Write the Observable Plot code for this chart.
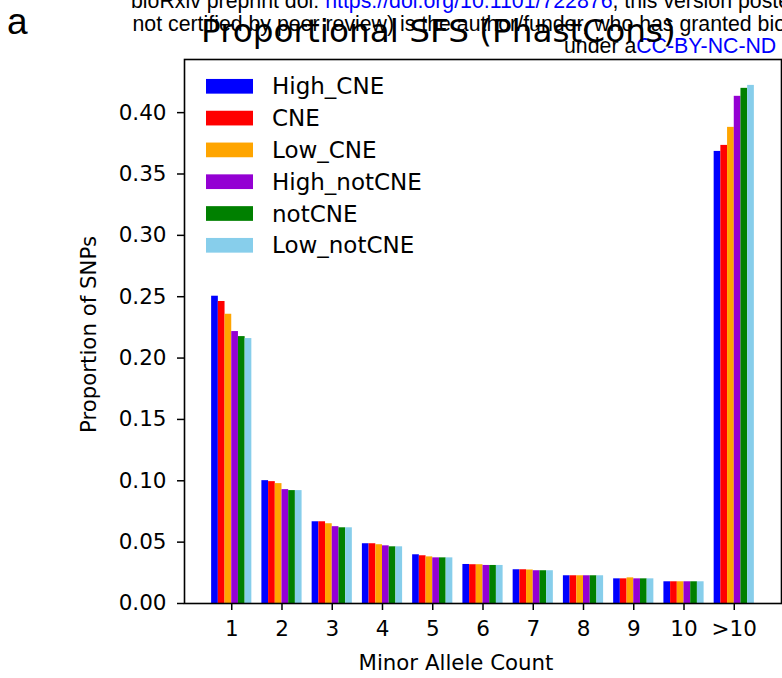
<!DOCTYPE html>
<html><head><meta charset="utf-8">
<script src="https://cdn.jsdelivr.net/npm/d3@7"></script>
<script src="https://cdn.jsdelivr.net/npm/@observablehq/plot@0.6"></script>
<style>
body{margin:0;background:#fff;}
#chart{position:relative;width:782px;height:678px;overflow:hidden;}
#chart svg [aria-label$="tick"] path, #chart svg g.tick line{stroke-width:1.5px;}
</style></head><body><div id="chart"></div>
<script>
const categories = ["1","2","3","4","5","6","7","8","9","10",">10"];
const seriesNames = ["High_CNE","CNE","Low_CNE","High_notCNE","notCNE","Low_notCNE"];
const seriesColors = ["#0000ff","#ff0000","#ffa500","#9400d3","#008000","#87ceeb"];
const highCNE    = [0.2504,0.1001,0.0666,0.0487,0.0397,0.0318,0.0275,0.0226,0.0201,0.0177,0.3684];
const cne        = [0.2461,0.0993,0.0666,0.0487,0.0389,0.0316,0.0275,0.0226,0.0201,0.0177,0.3733];
const lowCNE     = [0.2357,0.0977,0.0650,0.0479,0.0380,0.0316,0.0273,0.0226,0.0209,0.0177,0.3880];
const highNotCNE = [0.2216,0.0928,0.0626,0.0470,0.0372,0.0310,0.0267,0.0226,0.0201,0.0177,0.4133];
const notCNE     = [0.2175,0.0920,0.0617,0.0462,0.0372,0.0310,0.0267,0.0226,0.0201,0.0177,0.4198];
const lowNotCNE  = [0.2159,0.0920,0.0617,0.0462,0.0372,0.0310,0.0267,0.0226,0.0201,0.0177,0.4222];
const yTicks = [0,0.05,0.10,0.15,0.20,0.25,0.30,0.35,0.40];
const titleText = "Proportional SFS (PhastCons)";
const xLabel = "Minor Allele Count";
const yLabel = "Proportion of SNPs";
const panelLetter = "a";

const seriesValues = [highCNE, cne, lowCNE, highNotCNE, notCNE, lowNotCNE];
const groupWidth = 0.8, bw = groupWidth / seriesNames.length;
const rows = seriesNames.flatMap((s, j) => seriesValues[j].map((v, i) => ({
  cat: categories[i], pos: i + 1, series: s, j, value: v
})));

const chart = Plot.plot({
  width: 782, height: 678,
  marginLeft: 184, marginRight: 1, marginTop: 59, marginBottom: 75,
  style: {fontFamily: "DejaVu Sans", fontSize: "21.5px", color: "black", background: "white", overflow: "visible"},
  x: {domain: [0.06, 11.94], ticks: d3.range(1, 12), tickFormat: d => categories[d - 1], tickSize: 7, tickPadding: 10, label: null},
  y: {domain: [0, 0.4433], ticks: yTicks, tickFormat: d3.format(".2f"), tickSize: 7, tickPadding: 11, label: null},
  color: {domain: seriesNames, range: seriesColors},
  marks: [
    Plot.rect(rows, {x1: d => d.pos - groupWidth / 2 + d.j * bw, x2: d => d.pos - groupWidth / 2 + (d.j + 1) * bw, y1: 0, y2: "value", fill: "series"}),
    Plot.frame({stroke: "black", strokeWidth: 1.6})
  ]
});
document.getElementById("chart").appendChild(chart);

const svg = d3.select(chart);
const sans = "Liberation Sans, Arial, sans-serif";
const txt = (x, y, family, size) => svg.append("text").attr("x", x).attr("y", y)
  .attr("font-family", family).attr("font-size", size).attr("fill", "black").attr("text-anchor", "start");
// panel letter
txt(7, 33.5, sans, 37).text(panelLetter);
// bioRxiv stamp
const l1 = txt(131, 8, sans, 21.3);
l1.append("tspan").text("bioRxiv preprint doi: ");
l1.append("tspan").attr("fill", "#0000ff").text("https://doi.org/10.1101/722876");
l1.append("tspan").text(", this version posted");
txt(132.5, 31, sans, 21.3).text("not certified by peer review) is the author/funder, who has granted bioRxiv");
const l3 = txt(564, 52.5, sans, 21.3);
l3.append("tspan").text("under a");
l3.append("tspan").attr("fill", "#0000ff").text("CC-BY-NC-ND");
// title
txt(201, 42, "DejaVu Sans", 32.7).text(titleText);
// axis labels
svg.append("text").attr("x", 456).attr("y", 670).attr("text-anchor", "middle").attr("font-family", "DejaVu Sans").attr("font-size", 21.3).attr("fill", "black").text(xLabel);
svg.append("text").attr("transform", "translate(96,334.5) rotate(-90)").attr("text-anchor", "middle").attr("font-family", "DejaVu Sans").attr("font-size", 21.3).attr("fill", "black").text(yLabel);
// legend
const lg = svg.append("g").attr("font-family", "DejaVu Sans").attr("font-size", 23).attr("text-anchor", "start");
seriesNames.forEach((s, k) => {
  const cy = 86.3 + k * 31.8;
  lg.append("rect").attr("x", 206).attr("y", cy - 7.35).attr("width", 47).attr("height", 14.7).attr("fill", seriesColors[k]);
  lg.append("text").attr("x", 272).attr("y", cy + 8).attr("fill", "black").text(s);
});
</script></body></html>
